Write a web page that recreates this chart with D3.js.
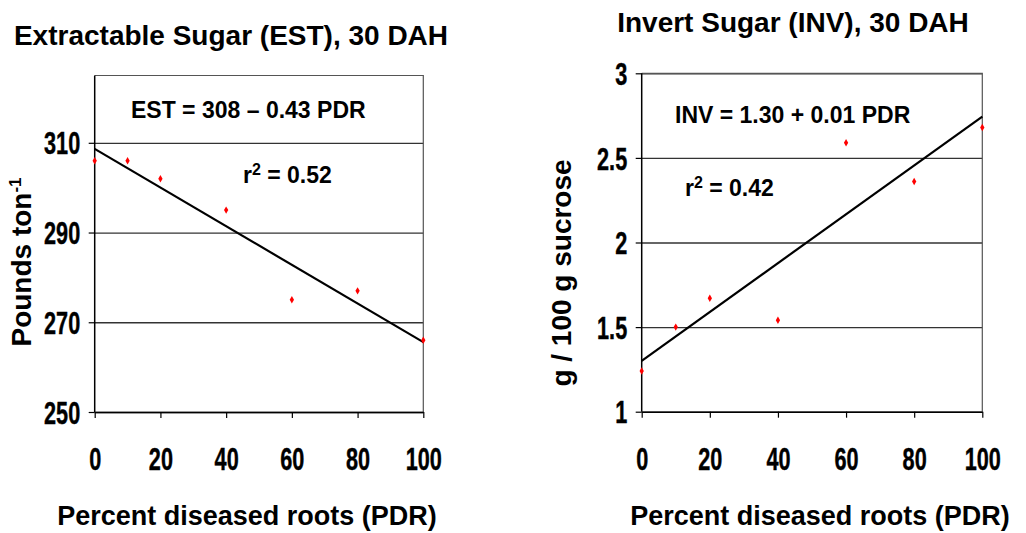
<!DOCTYPE html>
<html>
<head>
<meta charset="utf-8">
<script src="https://cdn.jsdelivr.net/npm/d3@7"></script>
<style>
  body { margin: 0; background: #fff; }
  svg { display: block; font-family: "Liberation Sans", Arial, sans-serif; font-weight: bold; }
</style>
</head>
<body>
<script>
// values
var pdr = [0, 10, 20, 40, 60, 80, 100];
var estValues = [306, 306, 302, 295, 275, 277, 266];
var invValues = [1.24, 1.5, 1.67, 1.54, 2.59, 2.36, 2.68];
var xTicks = [0, 20, 40, 60, 80, 100];
var estTicks = [250, 270, 290, 310];
var invTicks = [1, 1.5, 2, 2.5, 3];
var titles = ["Extractable Sugar (EST), 30 DAH", "Invert Sugar (INV), 30 DAH"];
var equations = ["EST = 308 \u2013 0.43 PDR", "INV = 1.30 + 0.01 PDR"];
var rSquared = ["0.52", "0.42"];
var xTitle = "Percent diseased roots (PDR)";

var svg = d3.select("body").append("svg")
    .attr("width", 1026)
    .attr("height", 533);

// least squares line through the points
function fit(xs, ys) {
    var mx = d3.mean(xs), my = d3.mean(ys);
    var sxy = 0, sxx = 0;
    for (var i = 0; i < xs.length; i++) {
        sxy += (xs[i] - mx) * (ys[i] - my);
        sxx += (xs[i] - mx) * (xs[i] - mx);
    }
    var b = sxy / sxx;
    return { a: my - b * mx, b: b };
}

// tick digits are tall and narrow in the original
var TICK_FONT = 31, TICK_SX = 0.7;

function styleTicks(sel) {
    sel.attr("font-family", "Liberation Sans, Arial, sans-serif")
        .attr("font-weight", "bold")
        .attr("font-size", TICK_FONT)
        .attr("fill", "#000")
        .attr("stroke", "#000")
        .attr("stroke-width", 0.4)
        .attr("transform", "scale(" + TICK_SX + ",1)");
}

function drawPanel(cfg) {
    var x = d3.scaleLinear().domain([0, 100]).range([cfg.left, cfg.right]);
    var y = d3.scaleLinear().domain(cfg.yDomain).range([cfg.bottom, cfg.top]);
    var g = svg.append("g");

    // gridlines
    g.append("g")
        .attr("transform", "translate(" + cfg.left + ",0)")
        .call(d3.axisLeft(y).tickValues(cfg.yTicks).tickSize(-(cfg.right - cfg.left)).tickFormat(""))
        .call(function(s) {
            s.select(".domain").remove();
            s.selectAll("line").attr("stroke", "#333").attr("stroke-width", 1.3);
        });

    // frame top/right
    g.append("path")
        .attr("d", "M" + cfg.left + "," + cfg.top + "H" + cfg.right + "V" + cfg.bottom)
        .attr("fill", "none")
        .attr("stroke", "#555")
        .attr("stroke-width", 1.2);

    // y axis
    var yAxis = g.append("g")
        .attr("transform", "translate(" + cfg.left + ",0)")
        .call(d3.axisLeft(y).tickValues(cfg.yTicks).tickSize(6).tickSizeOuter(0).tickFormat(function(d) { return String(d); }));
    yAxis.select(".domain").attr("stroke", "#000").attr("stroke-width", 1.5)
        .attr("d", "M0," + cfg.top + "V" + cfg.bottom);
    yAxis.selectAll("line").attr("stroke", "#000").attr("stroke-width", 1.2);
    yAxis.selectAll("text")
        .call(styleTicks)
        .attr("x", -14.5 / TICK_SX)
        .attr("dy", "0.36em");

    // x axis
    var xAxis = g.append("g")
        .attr("transform", "translate(0," + cfg.bottom + ")")
        .call(d3.axisBottom(x).tickValues(xTicks).tickSize(6).tickSizeOuter(0));
    xAxis.select(".domain").attr("stroke", "#000").attr("stroke-width", 1.5);
    xAxis.selectAll("line").attr("stroke", "#000").attr("stroke-width", 1.2);
    xAxis.selectAll("text")
        .call(styleTicks)
        .attr("y", 58)
        .attr("dy", 0);

    // trend line
    var t = fit(pdr, cfg.values);
    g.append("line")
        .attr("x1", x(0)).attr("y1", y(t.a))
        .attr("x2", x(100)).attr("y2", y(t.a + t.b * 100))
        .attr("stroke", "#000")
        .attr("stroke-width", 2.2);

    // points
    g.selectAll(".pt")
        .data(cfg.values)
        .enter()
        .append("path")
        .attr("class", "pt")
        .attr("d", d3.symbol(d3.symbolDiamond, 16))
        .attr("transform", function(d, i) { return "translate(" + x(pdr[i]) + "," + y(d) + ")"; })
        .attr("fill", "#ff0000");

    // titles and annotations
    svg.append("text")
        .attr("x", cfg.titleX).attr("y", cfg.titleY)
        .attr("text-anchor", "middle")
        .attr("font-size", 28)
        .text(cfg.title);

    svg.append("text")
        .attr("x", cfg.eqX).attr("y", cfg.eqY)
        .attr("font-size", 23)
        .text(cfg.equation);

    var r = svg.append("text")
        .attr("x", cfg.rX).attr("y", cfg.rY)
        .attr("font-size", 23);
    r.append("tspan").text("r");
    r.append("tspan").attr("font-size", 16).attr("dy", -8).text("2");
    r.append("tspan").attr("dy", 8).text(" = " + cfg.r2);

    svg.append("text")
        .attr("x", cfg.xTitleX).attr("y", 525)
        .attr("text-anchor", "middle")
        .attr("font-size", 27)
        .text(xTitle);

    var yl = svg.append("text")
        .attr("transform", "translate(" + cfg.yLabelX + "," + cfg.yLabelY + ") rotate(-90)")
        .attr("text-anchor", "middle")
        .attr("font-size", 28);
    cfg.yLabel(yl);
}

drawPanel({
    left: 94.7, right: 423.3, top: 75.5, bottom: 412,
    yDomain: [250, 325], yTicks: estTicks, values: estValues,
    title: titles[0], titleX: 231, titleY: 45,
    equation: equations[0], eqX: 131, eqY: 118,
    r2: rSquared[0], rX: 243, rY: 183,
    xTitleX: 247,
    yLabelX: 31, yLabelY: 262,
    yLabel: function(t) {
        t.append("tspan").text("Pounds ton");
        t.append("tspan").attr("font-size", 17).attr("dy", -10).text("-1");
    }
});

drawPanel({
    left: 641.7, right: 982.3, top: 73.3, bottom: 411.7,
    yDomain: [1, 3], yTicks: invTicks, values: invValues,
    title: titles[1], titleX: 793, titleY: 32,
    equation: equations[1], eqX: 675, eqY: 123,
    r2: rSquared[1], rX: 685, rY: 196,
    xTitleX: 820,
    yLabelX: 571, yLabelY: 273,
    yLabel: function(t) {
        t.text("g / 100 g sucrose");
    }
});
</script>
</body>
</html>
